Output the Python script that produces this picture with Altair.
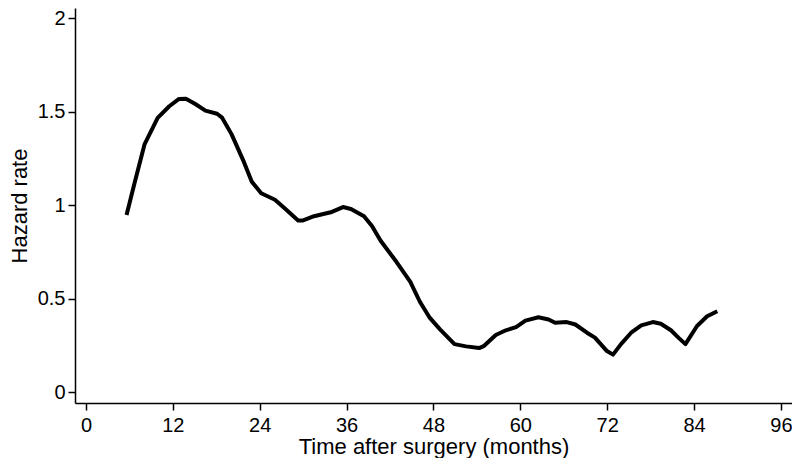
import altair as alt
import pandas as pd

months = [5.6, 6.7, 8.1, 9.9, 11.5, 12.85, 13.8, 15.1, 16.5, 18.1, 18.8, 20.1, 21.7, 22.9,
          24.2, 26.1, 27.4, 29.3, 29.9, 31.5, 33.8, 35.5, 36.6, 38.4, 39.5, 40.7,
          42.9, 44.8, 46.1, 47.5, 48.9, 50.9, 52.5, 54.3, 55.0, 56.6, 58.0, 59.4, 60.7,
          62.5, 63.9, 64.8, 66.4, 67.6, 69.2, 70.3, 71.9, 72.8, 73.9, 75.3, 76.7, 78.3,
          79.4, 80.8, 81.9, 82.8, 84.4, 85.8, 87.2]
hazard = [0.947, 1.116, 1.326, 1.466, 1.528, 1.567, 1.568, 1.54, 1.505, 1.488, 1.467, 1.379,
          1.24, 1.125, 1.063, 1.028, 0.984, 0.917, 0.917, 0.94, 0.961, 0.989, 0.979, 0.94,
          0.888, 0.809, 0.695, 0.589, 0.484, 0.396, 0.335, 0.256, 0.244, 0.235, 0.247,
          0.305, 0.33, 0.347, 0.382, 0.4, 0.388, 0.37, 0.374, 0.361, 0.317, 0.291, 0.221,
          0.2, 0.256, 0.317, 0.356, 0.374, 0.365, 0.33, 0.288, 0.256, 0.353, 0.405, 0.432]

x_ticks = [0, 12, 24, 36, 48, 60, 72, 84, 96]
y_ticks = [0, 0.5, 1, 1.5, 2]

df = pd.DataFrame({"month": months, "hazard": hazard})

chart = alt.Chart(df).mark_line(
    color="black", strokeWidth=4, strokeJoin="round", strokeCap="butt"
).encode(
    x=alt.X("month:Q",
            scale=alt.Scale(domain=[-1.519, 97.52], nice=False, zero=False),
            axis=alt.Axis(values=x_ticks, title="Time after surgery (months)",
                          format="d", labelPadding=5, titlePadding=1)),
    y=alt.Y("hazard:Q",
            scale=alt.Scale(domain=[-0.0588, 2.0535], nice=False, zero=False),
            axis=alt.Axis(values=y_ticks, title="Hazard rate", format="~g",
                          labelPadding=3, titlePadding=6)),
).properties(
    width=717, height=395,
    autosize=alt.AutoSizeParams(type="none"),
    padding={"left": 67, "top": 0, "right": 0, "bottom": 55},
).configure_view(
    stroke=None
).configure_axis(
    grid=False,
    domainColor="black", domainWidth=1.5,
    tickColor="black", tickWidth=1.5, tickSize=7,
    labelFont="Liberation Sans", labelFontSize=20, labelColor="black",
    labelFlush=False, labelOverlap=False,
    titleFont="Liberation Sans", titleFontSize=22, titleFontWeight="normal",
    titleColor="black",
)

chart.save("out.html", embed_options={"renderer": "svg", "actions": False})
